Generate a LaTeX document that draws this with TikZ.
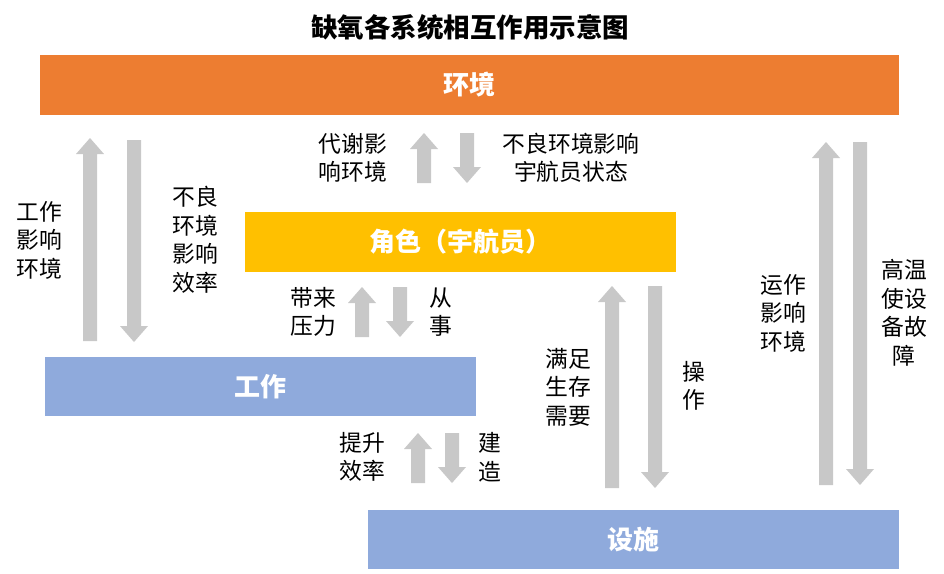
\documentclass[tikz,border=0pt]{standalone}
\usepackage{fontspec}
\setmainfont{Noto Sans CJK SC}
\definecolor{envorange}{HTML}{ED7D31}
\definecolor{rolegold}{HTML}{FFC000}
\definecolor{boxblue}{HTML}{8FAADC}
\definecolor{arrgrey}{HTML}{C8C8C8}
\newcommand\upblock[3]{% x, bottom y, tip y
  \fill[arrgrey] ({#1-7},#2) -- ({#1-7},{#3+16}) -- ({#1-14},{#3+16}) -- (#1,#3)
    -- ({#1+14},{#3+16}) -- ({#1+7},{#3+16}) -- ({#1+7},#2) -- cycle;}
\newcommand\downblock[3]{% x, top y, tip y
  \fill[arrgrey] ({#1-7},#2) -- ({#1-7},{#3-16}) -- ({#1-14},{#3-16}) -- (#1,#3)
    -- ({#1+14},{#3-16}) -- ({#1+7},{#3-16}) -- ({#1+7},#2) -- cycle;}
\begin{document}
\begin{tikzpicture}[x=1pt,y=-1pt,
  sysbox/.style={rectangle, inner sep=0pt, text=white, font=\fontsize{26}{30}\selectfont\bfseries},
  lbl/.style={align=center, inner sep=0pt, font=\fontsize{22.8}{28.5}\selectfont}]
\useasboundingbox[fill=white] (0,0) rectangle (944,573);
\node[font=\fontsize{26.5}{30}\selectfont\bfseries] (title) at (470,27) {缺氧各系统相互作用示意图};
\node[sysbox, fill=envorange, minimum width=859pt, minimum height=60pt] (env) at (469.5,85) {环境};
\node[sysbox, fill=rolegold, minimum width=431pt, minimum height=60pt] (role) at (460.5,242) {角色（宇航员）};
\node[sysbox, fill=boxblue, minimum width=431pt, minimum height=59pt] (work) at (260.5,386.5) {工作};
\node[sysbox, fill=boxblue, minimum width=531pt, minimum height=59pt] (fac) at (633.5,539.5) {设施};
% arrows
\upblock{90}{341}{138}
\downblock{134}{140}{342}
\upblock{424}{183}{133}
\downblock{467}{133}{183}
\upblock{362}{337}{287}
\downblock{400}{287}{337}
\upblock{418}{483}{433}
\downblock{452}{433}{483}
\upblock{612}{488}{286}
\downblock{655}{286}{488}
\upblock{826}{485}{142}
\downblock{860}{142}{485}
% labels
\node[lbl] (l1) at (39,240) {工作\\影响\\环境};
\node[lbl] (l2) at (195,240) {不良\\环境\\影响\\效率};
\node[lbl] (l3) at (353,158) {代谢影\\响环境};
\node[lbl] (l4) at (571,158) {不良环境影响\\宇航员状态};
\node[lbl] (l5) at (313,312) {带来\\压力};
\node[lbl] (l6) at (441,312) {从\\事};
\node[lbl] (l7) at (362,457) {提升\\效率};
\node[lbl] (l8) at (490,457) {建\\造};
\node[lbl] (l9) at (568,387) {满足\\生存\\需要};
\node[lbl] (l10) at (694,386) {操\\作};
\node[lbl] (l11) at (783,313) {运作\\影响\\环境};
\node[lbl] (l12) at (904,313) {高温\\使设\\备故\\障};
\end{tikzpicture}
\end{document}
